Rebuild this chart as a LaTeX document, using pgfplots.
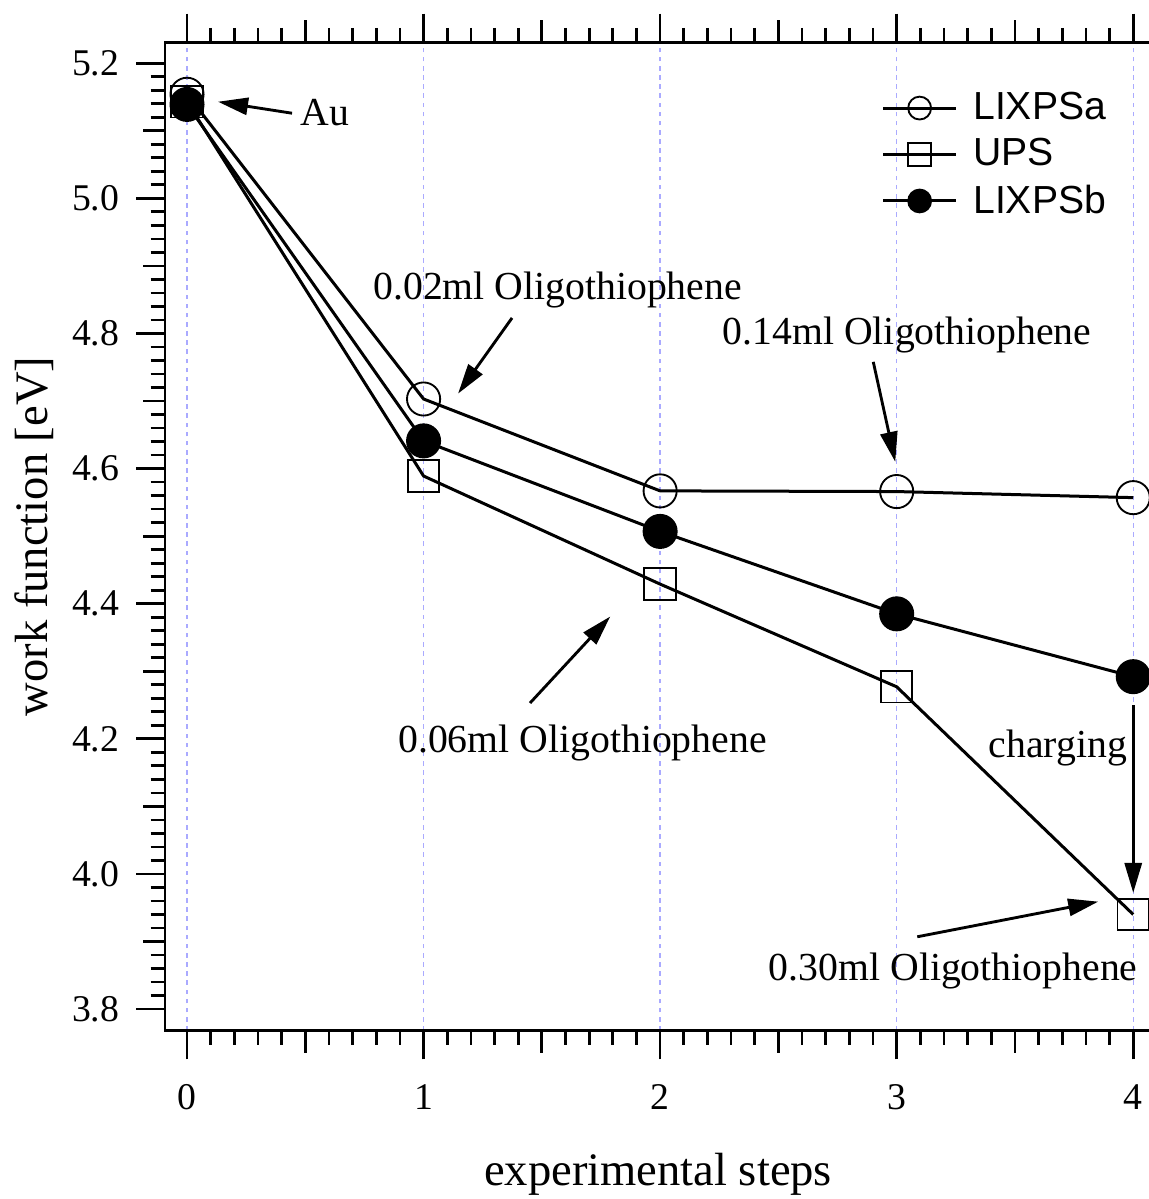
\documentclass[border=0pt]{standalone}
\usepackage{fontspec}
\setmainfont{Liberation Serif}
\newfontfamily\arial{Liberation Sans}
\usepackage{pgfplots}
\pgfplotsset{compat=1.18}
\usetikzlibrary{arrows.meta}
\definecolor{gridblue}{RGB}{170,170,255}
\newcommand\annofont{\fontsize{13.9}{16}\selectfont}
\tikzset{ann/.style={line width=1.0pt, -{Triangle[length=10.5pt,width=6pt]}}}
\begin{document}
\begin{tikzpicture}
\begin{axis}[
  name=ax,
  scale only axis,
  width=345.1pt, height=345.9pt,
  xmin=-0.093, xmax=4.0757,
  ymin=3.768, ymax=5.231,
  xtick={0,1,2,3,4},
  xticklabels={0,1,2,3,4},
  ytick={3.8,4.0,4.2,4.4,4.6,4.8,5.0,5.2},
  yticklabels={3.8,4.0,4.2,4.4,4.6,4.8,5.0,5.2},
  minor x tick num=9,
  minor y tick num=9,
  extra x ticks={0.5,1.5,2.5,3.5},
  extra x tick labels={},
  extra x tick style={grid=none, major tick length=7.7pt},
  extra y ticks={3.9,4.1,4.3,4.5,4.7,4.9,5.1},
  extra y tick labels={},
  extra y tick style={major tick length=7.7pt},
  tick align=outside,
  xtick pos=both,
  ytick pos=left,
  major tick length=10pt,
  minor tick length=5pt,
  tick style={black, line width=0.95pt},
  axis line style={line width=1.0pt},
  xmajorgrids,
  major grid style={gridblue, line width=0.5pt, dash pattern=on 1.6pt off 1.6pt},
  ticklabel style={font=\rmfamily\fontsize{13.2}{15}\selectfont},
  xticklabel style={yshift=-5.3pt},
  yticklabel style={xshift=-2.5pt},
  xlabel={experimental steps},
  ylabel={work function [eV]},
  label style={font=\fontsize{16.3}{19}\selectfont},
  xlabel style={at={(axis description cs:0.5,-0.1571)}, anchor=base},
  ylabel style={at={(axis description cs:-0.1328,0.5)}, anchor=center},
  legend style={draw=none, fill=none, at={(axis description cs:0.7262,0.950)}, anchor=north west,
    font=\arial\fontsize{13.7}{16}\selectfont, row sep=5.1pt, inner sep=0pt,
    nodes={inner sep=0pt}, column sep=5.5pt},
  legend cell align=left,
  legend image code/.code={\draw[line width=1.05pt, mark repeat=2,mark phase=2,mark size=4pt] plot coordinates {(0pt,0pt) (12.75pt,0pt) (25.5pt,0pt)};},
]
\addplot[black, line width=1.05pt, mark=o, mark size=5.8pt, mark options={line width=0.65pt}]
  coordinates {(0,5.154) (1,4.703) (2,4.567) (3,4.566) (4,4.557)};
\addlegendentry{LIXPSa}
\addplot[black, line width=1.05pt, mark=square, mark size=5.5pt, mark options={line width=0.65pt}]
  coordinates {(0,5.143) (1,4.589) (2,4.429) (3,4.277) (4,3.940)};
\addlegendentry{UPS}
\addplot[black, line width=1.05pt, mark=*, mark size=5.8pt, mark options={line width=0.65pt}]
  coordinates {(0,5.139) (1,4.641) (2,4.507) (3,4.385) (4,4.292)};
\addlegendentry{LIXPSb}

\node[font=\annofont, anchor=base west, inner sep=0pt] at (axis cs:0.478,5.108) {Au};
\draw[ann] (axis cs:0.444,5.126) -- (axis cs:0.131,5.143);
\node[font=\annofont, anchor=base, inner sep=0pt] at (axis cs:1.567,4.851) {0.02ml Oligothiophene};
\draw[ann] (axis cs:1.374,4.823) -- (axis cs:1.146,4.711);
\node[font=\annofont, anchor=base, inner sep=0pt] at (axis cs:3.044,4.783) {0.14ml Oligothiophene};
\draw[ann] (axis cs:2.901,4.758) -- (axis cs:2.994,4.610);
\node[font=\annofont, anchor=base, inner sep=0pt] at (axis cs:1.672,4.180) {0.06ml Oligothiophene};
\draw[ann] (axis cs:1.450,4.253) -- (axis cs:1.789,4.381);
\node[font=\annofont, anchor=base, inner sep=0pt] at (axis cs:3.681,4.172) {charging};
\draw[ann] (axis cs:4,4.250) -- (axis cs:4,3.972);
\node[font=\annofont, anchor=base, inner sep=0pt] at (axis cs:3.239,3.843) {0.30ml Oligothiophene};
\draw[ann] (axis cs:3.087,3.907) -- (axis cs:3.852,3.959);
\end{axis}
\pgfresetboundingbox
\path ([shift={(-57.75pt,-58.9pt)}]ax.south west) rectangle ([shift={(-1.05pt,14.8pt)}]ax.north east);
\end{tikzpicture}
\end{document}
